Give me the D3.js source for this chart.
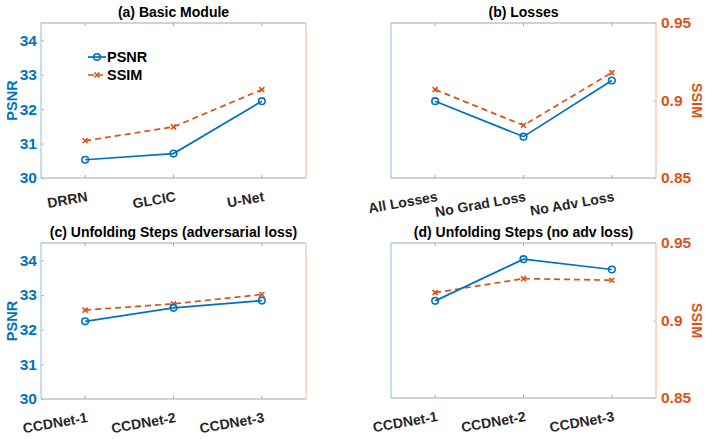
<!DOCTYPE html>
<html>
<head>
<meta charset="utf-8">
<script src="https://cdn.jsdelivr.net/npm/d3@7"></script>
<style>
  html, body { margin: 0; padding: 0; background: #fff; }
  svg { display: block; }
  text { font-family: "Liberation Sans", Arial, Helvetica, sans-serif; font-weight: bold; }
</style>
</head>
<body>
<svg id="chart" width="706" height="439"></svg>
<script>
// ---- data ----
const titles = ["(a) Basic Module", "(b) Losses", "(c) Unfolding Steps (adversarial loss)", "(d) Unfolding Steps (no adv loss)"];
const categoriesA = ["DRRN", "GLCIC", "U-Net"];
const categoriesB = ["All Losses", "No Grad Loss", "No Adv Loss"];
const categoriesC = ["CCDNet-1", "CCDNet-2", "CCDNet-3"];
const categoriesD = ["CCDNet-1", "CCDNet-2", "CCDNet-3"];
const psnrA = [30.53, 30.71, 32.23];
const ssimA = [0.874, 0.883, 0.907];
const psnrB = [32.23, 31.20, 32.83];
const ssimB = [0.907, 0.884, 0.918];
const psnrC = [32.24, 32.63, 32.84];
const ssimC = [0.907, 0.911, 0.917];
const psnrD = [32.82, 34.03, 33.73];
const ssimD = [0.918, 0.927, 0.926];
const psnrTicks = [30, 31, 32, 33, 34];
const ssimTicks = [0.85, 0.9, 0.95];
const ssimTickLabels = ["0.85", "0.9", "0.95"];
const psnrDomain = [30, 34.5];
const ssimDomain = [0.85, 0.95];
const seriesNames = ["PSNR", "SSIM"];

// ---- style / layout ----
const BLUE = "#0072BD", ORANGE = "#D95319";
const BLUE_AX = "#8cbfe4", ORANGE_AX = "#f0b497", GRAY_AX = "#a6a6a6", TXT = "#262626";
const FONT = "'Liberation Sans', Arial, Helvetica, sans-serif";
const panels = [
  { title: titles[0], cats: categoriesA, psnr: psnrA, ssim: ssimA, box: [41, 306, 23, 178], side: "left", legend: true },
  { title: titles[1], cats: categoriesB, psnr: psnrB, ssim: ssimB, box: [391, 656, 23, 178], side: "right" },
  { title: titles[2], cats: categoriesC, psnr: psnrC, ssim: ssimC, box: [41, 306, 243, 399], side: "left" },
  { title: titles[3], cats: categoriesD, psnr: psnrD, ssim: ssimD, box: [391, 656, 243, 398], side: "right" }
];

const svg = d3.select("#chart");

function circleMarks(g, data, x, y) {
  g.selectAll(null).data(data).enter().append("circle")
    .attr("cx", (d, i) => x(i + 1)).attr("cy", d => y(d)).attr("r", 3.3)
    .attr("fill", "none").attr("stroke", BLUE).attr("stroke-width", 1.6);
}
function crossMarks(g, data, x, y) {
  const s = 2.5;
  g.selectAll(null).data(data).enter().append("path")
    .attr("d", (d, i) => {
      const cx = x(i + 1), cy = y(d);
      return `M${cx - s},${cy - s}L${cx + s},${cy + s}M${cx - s},${cy + s}L${cx + s},${cy - s}`;
    })
    .attr("stroke", ORANGE).attr("stroke-width", 1.6).attr("fill", "none");
}

panels.forEach(p => {
  const [x0, x1, y0, y1] = p.box;
  const x = d3.scaleLinear().domain([0.5, 3.5]).range([x0, x1]);
  const yL = d3.scaleLinear().domain(psnrDomain).range([y1, y0]);
  const yR = d3.scaleLinear().domain(ssimDomain).range([y1, y0]);
  const g = svg.append("g");

  // box lines
  g.append("line").attr("x1", x0).attr("x2", x1).attr("y1", y0).attr("y2", y0).attr("stroke", GRAY_AX).attr("stroke-width", 1);
  g.append("line").attr("x1", x0).attr("x2", x1).attr("y1", y1).attr("y2", y1).attr("stroke", GRAY_AX).attr("stroke-width", 1);
  g.append("line").attr("x1", x0).attr("x2", x0).attr("y1", y0).attr("y2", y1).attr("stroke", BLUE_AX).attr("stroke-width", 1);
  g.append("line").attr("x1", x1).attr("x2", x1).attr("y1", y0).attr("y2", y1).attr("stroke", ORANGE_AX).attr("stroke-width", 1);

  // x ticks (bottom and top, inward)
  [1, 2, 3].forEach(i => {
    g.append("line").attr("x1", x(i)).attr("x2", x(i)).attr("y1", y1).attr("y2", y1 - 3).attr("stroke", GRAY_AX);
    g.append("line").attr("x1", x(i)).attr("x2", x(i)).attr("y1", y0).attr("y2", y0 + 3).attr("stroke", GRAY_AX);
  });
  // x tick labels (rotated)
  g.selectAll(null).data(p.cats).enter().append("text")
    .attr("transform", (d, i) => `translate(${x(i + 1) + 3},${y1 + 23}) rotate(-10)`)
    .attr("text-anchor", "end").attr("font-size", 14).attr("fill", TXT).text(d => d);

  if (p.side === "left") {
    const ax = d3.axisLeft(yL).tickValues(psnrTicks).tickSize(-3).tickPadding(4).tickFormat(d3.format("d"));
    const ag = g.append("g").attr("transform", `translate(${x0},0)`).call(ax);
    ag.select(".domain").remove();
    ag.selectAll(".tick line").attr("stroke", BLUE_AX);
    ag.selectAll(".tick text").attr("fill", BLUE).attr("font-size", 15.5)
      .attr("font-family", FONT).attr("font-weight", "bold");
    g.append("text").attr("transform", `translate(17,${(y0 + y1) / 2}) rotate(-90)`)
      .attr("text-anchor", "middle").attr("font-size", 14.5).attr("fill", BLUE).text(seriesNames[0]);
  } else {
    const ax = d3.axisRight(yR).tickValues(ssimTicks).tickSize(-3).tickPadding(5)
      .tickFormat((d, i) => ssimTickLabels[i]);
    const ag = g.append("g").attr("transform", `translate(${x1},0)`).call(ax);
    ag.select(".domain").remove();
    ag.selectAll(".tick line").attr("stroke", ORANGE_AX);
    ag.selectAll(".tick text").attr("fill", ORANGE).attr("font-size", 15.5)
      .attr("font-family", FONT).attr("font-weight", "bold");
    g.append("text").attr("transform", `translate(692,${(y0 + y1) / 2}) rotate(90)`)
      .attr("text-anchor", "middle").attr("font-size", 14.5).attr("fill", ORANGE).text(seriesNames[1]);
  }

  // title
  g.append("text").attr("x", (x0 + x1) / 2).attr("y", y0 - 6).attr("text-anchor", "middle")
    .attr("font-size", 14).attr("fill", "#000").text(p.title);

  // series
  const lineL = d3.line().x((d, i) => x(i + 1)).y(d => yL(d));
  const lineR = d3.line().x((d, i) => x(i + 1)).y(d => yR(d));
  g.append("path").datum(p.ssim).attr("d", lineR).attr("fill", "none").attr("stroke", ORANGE)
    .attr("stroke-width", 1.7).attr("stroke-dasharray", "6,4");
  crossMarks(g, p.ssim, x, yR);
  g.append("path").datum(p.psnr).attr("d", lineL).attr("fill", "none").attr("stroke", BLUE)
    .attr("stroke-width", 1.7);
  circleMarks(g, p.psnr, x, yL);

  if (p.legend) {
    const lg = g.append("g");
    const lx0 = 88, lx1 = 106, r1 = 57, r2 = 75;
    lg.append("line").attr("x1", lx0).attr("x2", lx1).attr("y1", r1).attr("y2", r1).attr("stroke", BLUE).attr("stroke-width", 1.7);
    lg.append("circle").attr("cx", (lx0 + lx1) / 2).attr("cy", r1).attr("r", 3.3).attr("fill", "none").attr("stroke", BLUE).attr("stroke-width", 1.6);
    lg.append("line").attr("x1", lx0).attr("x2", lx1).attr("y1", r2).attr("y2", r2).attr("stroke", ORANGE).attr("stroke-width", 1.7).attr("stroke-dasharray", "6,3");
    const cx = (lx0 + lx1) / 2, s = 2.5;
    lg.append("path").attr("d", `M${cx - s},${r2 - s}L${cx + s},${r2 + s}M${cx - s},${r2 + s}L${cx + s},${r2 - s}`).attr("stroke", ORANGE).attr("stroke-width", 1.6);
    lg.append("text").attr("x", 107).attr("y", r1 + 5).attr("font-size", 14.5).attr("fill", "#000").text(seriesNames[0]);
    lg.append("text").attr("x", 107).attr("y", r2 + 5).attr("font-size", 14.5).attr("fill", "#000").text(seriesNames[1]);
  }
});
</script>
</body>
</html>
